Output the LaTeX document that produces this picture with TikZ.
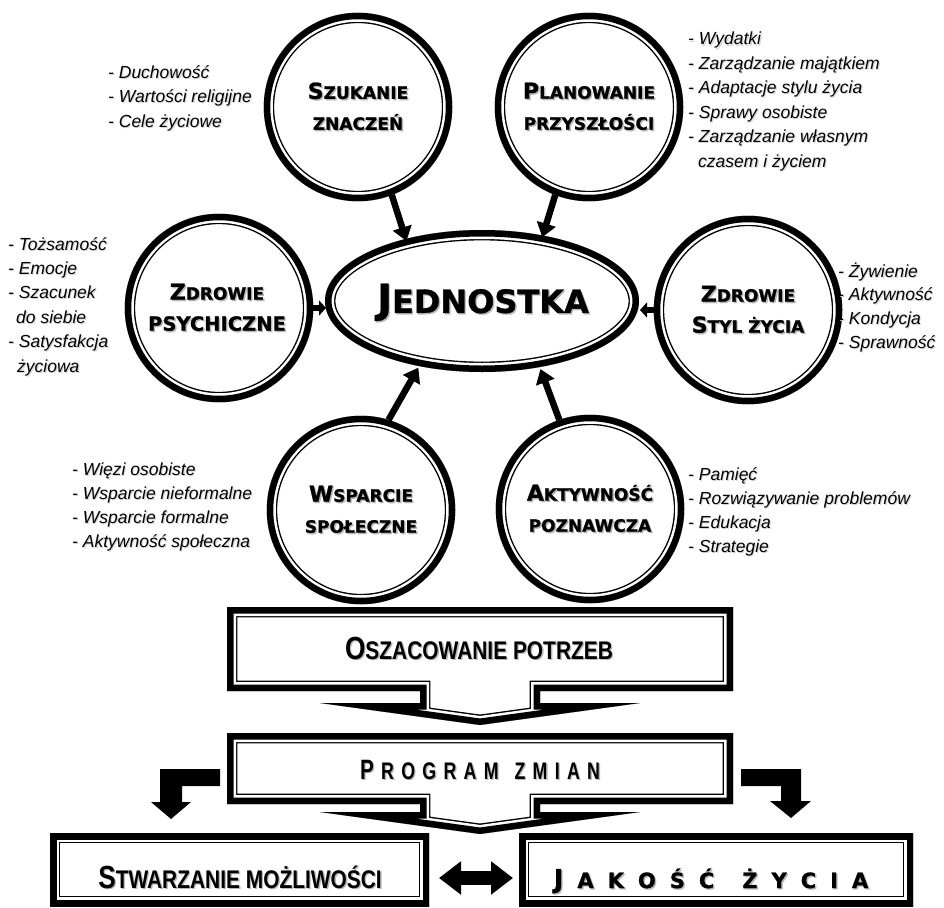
\documentclass[tikz,border=0pt]{standalone}
\usepackage{fontspec}
\setmainfont{Liberation Sans}
\newfontfamily\heavyfont{DejaVu Sans Bold}[FakeBold=1]
\newfontfamily\narrowfont{Liberation Sans}[FakeStretch=0.82]
\newfontfamily\condfont{Liberation Sans}[FakeStretch=0.74]
\usetikzlibrary{arrows.meta,shapes.geometric}
\newcommand\shd[2][1.4pt]{\leavevmode\rlap{\hspace{#1}\raisebox{-#1}{\textcolor{black!28}{#2}}}#2}
\newcommand\lshd[1]{\leavevmode\rlap{\hspace{1.1pt}\raisebox{-1.1pt}{\textcolor{black!16}{#1}}}#1}
\newcommand\cbig[1]{{\fontsize{22}{31}\selectfont #1}}
\newcommand\cmid[1]{{\fontsize{19.5}{31}\selectfont #1}}
\newcommand\framedpath[1]{\begin{scope}\clip #1; \fill[white] #1; \draw[line width=20.8pt] #1; \draw[white,line width=18pt] #1; \draw[line width=13pt] #1;\end{scope}}
\newcommand\lsp{\kern7.3pt}
\newcommand\lsj{\kern14pt}
\begin{document}
\begin{tikzpicture}[x=1pt,y=-1pt,
  ctext/.style={circle,minimum size=188.5pt,inner sep=0pt,outer sep=0pt,align=center,
     font=\heavyfont\fontsize{17}{31}\selectfont},
  listtext/.style={anchor=base west,inner sep=0pt,font=\fontsize{17.5}{24}\selectfont\itshape},
  boxtext/.style={anchor=base,inner sep=0pt},
  bigarrow/.style={line width=6.5pt,-{Triangle[width=19pt,length=14pt]}},
  smallarrow/.style={line width=6pt,-{Triangle[width=15pt,length=7pt]}},
  dblarrow/.style={line width=14pt,{Triangle[width=32pt,length=22pt]}-{Triangle[width=32pt,length=22pt]}}
]
\useasboundingbox (0,0) rectangle (944,907);

% ---- frames (double borders) ----
\framedpath{(358,107) circle[radius=94.25]}
\framedpath{(589,107) circle[radius=94.25]}
\framedpath{(219,308) circle[radius=94.25]}
\framedpath{(748,310) circle[radius=94.25]}
\framedpath{(361,510) circle[radius=94.25]}
\framedpath{(590,509) circle[radius=94.25]}
\framedpath{(482,301) ellipse[x radius=157, y radius=71]}
\framedpath{(227,607) -- (733,607) -- (733,691) -- (540,691) -- (540,703) -- (640,703) -- (480,725) -- (320,703) -- (420,703) -- (420,691) -- (227,691) -- cycle}
\framedpath{(227,733) -- (733,733) -- (733,804) -- (540,804) -- (540,812) -- (640,812) -- (480,834) -- (320,812) -- (420,812) -- (420,804) -- (227,804) -- cycle}
\framedpath{(50,833) rectangle (429,906)}
\framedpath{(519,833) rectangle (913,906)}

% ---- circle nodes ----
\node[ctext] (szuk) at (358,107) {\shd{\cbig{S}ZUKANIE}\\\shd{ZNACZEŃ}};
\node[ctext] (plan) at (589,107) {\shd{\cbig{P}LANOWANIE}\\\shd{PRZYSZŁOŚCI}};
\node[ctext] (psy)  at (217,308) {\shd{\cbig{Z}DROWIE}\\\shd{\cmid{PSYCHICZNE}}};
\node[ctext] (styl) at (748,310) {\shd{\cbig{Z}DROWIE}\\\shd{\cbig{S}TYL ŻYCIA}};
\node[ctext] (wsp)  at (361,510) {\shd{\cbig{W}SPARCIE}\\\shd{SPOŁECZNE}};
\node[ctext] (akt)  at (590,509) {\shd{\cbig{A}KTYWNOŚĆ}\\\shd{POZNAWCZA}};
\node[ellipse,minimum width=314pt,minimum height=142pt,inner sep=0pt,outer sep=0pt,
      font=\heavyfont] (jed) at (483,303)
  {\shd{{\fontsize{40}{40}\selectfont J}{\fontsize{32}{32}\selectfont EDNOSTKA}}};

% ---- arrows to the centre ----
\draw[bigarrow] (szuk.-69) -- (jed.141);
\draw[bigarrow] (plan.-111) -- (jed.48.7);
\draw[bigarrow] (wsp.73) -- (jed.225);
\draw[bigarrow] (akt.109) -- (jed.-49);
\draw[smallarrow] ([xshift=2pt]psy.east) -- (psy.east -| jed.west);
\draw[smallarrow] (styl.west) -- (styl.west -| jed.east);

% ---- lists ----
\foreach \t [count=\i] in {- Duchowość, - Wartości religijne, - Cele życiowe}
  \node[listtext] (la\i) at (108,{78+24.5*(\i-1)}) {\lshd{\t}};
\foreach \t [count=\i] in {- Wydatki, - Zarządzanie majątkiem, - Adaptacje stylu życia, - Sprawy osobiste, - Zarządzanie własnym, \hspace{10pt}czasem i życiem}
  \node[listtext] (lb\i) at (688,{45+24.4*(\i-1)}) {\lshd{\t}};
\foreach \t [count=\i] in {- Tożsamość, - Emocje, - Szacunek, \hspace{8pt}do siebie, - Satysfakcja, \hspace{9pt}życiowa}
  \node[listtext] (lc\i) at (8,{250+24.4*(\i-1)}) {\lshd{\t}};
\foreach \t [count=\i] in {- Żywienie, - Aktywność, - Kondycja, - Sprawność}
  \node[listtext] (ld\i) at (838,{277+23.8*(\i-1)}) {\lshd{\t}};
\foreach \t [count=\i] in {- Więzi osobiste, - Wsparcie nieformalne, - Wsparcie formalne, - Aktywność społeczna}
  \node[listtext] (le\i) at (72,{475+24*(\i-1)}) {\lshd{\t}};
\foreach \t [count=\i] in {- Pamięć, - Rozwiązywanie problemów, - Edukacja, - Strategie}
  \node[listtext] (lf\i) at (688,{480+24*(\i-1)}) {\lshd{\t}};

% ---- box texts ----
\node[boxtext,font=\narrowfont\bfseries\fontsize{25.5}{26}\selectfont] (osz) at (479,659)
  {\shd{{\fontsize{32}{32}\selectfont O}SZACOWANIE POTRZEB}};
\node[boxtext,font=\condfont\bfseries\fontsize{24}{24}\selectfont] (prog) at (480,779)
  {\shd{{\fontsize{28}{28}\selectfont P}\lsp R\lsp O\lsp G\lsp R\lsp A\lsp M\hspace{16pt}Z\lsp M\lsp I\lsp A\lsp N}};
\node[boxtext,font=\narrowfont\bfseries\fontsize{25.5}{26}\selectfont] (stw) at (240,888)
  {\shd{{\fontsize{32}{32}\selectfont S}TWARZANIE MOŻLIWOŚCI}};
\node[boxtext,font=\heavyfont\fontsize{21}{21}\selectfont] (jak) at (711,888)
  {\shd{{\fontsize{26}{26}\selectfont J}\lsj A\lsj K\lsj O\lsj Ś\lsj Ć\hspace{28pt}Ż\lsj Y\lsj C\lsj I\lsj A}};

% ---- arrows at the bottom ----
\coordinate (stwE) at (429,878);
\coordinate (jakW) at (519,878);
\draw[dblarrow,shorten <=10pt,shorten >=6pt] (stwE) -- (jakW);
\fill (220,769) -- (160,769) -- (160,802) -- (151,802) -- (171,819) -- (191,802) -- (182,802) -- (182,786) -- (220,786) -- cycle;
\fill (741,769) -- (801,769) -- (801,801) -- (811,801) -- (791,818) -- (770,801) -- (781,801) -- (781,786) -- (741,786) -- cycle;
\end{tikzpicture}
\end{document}
